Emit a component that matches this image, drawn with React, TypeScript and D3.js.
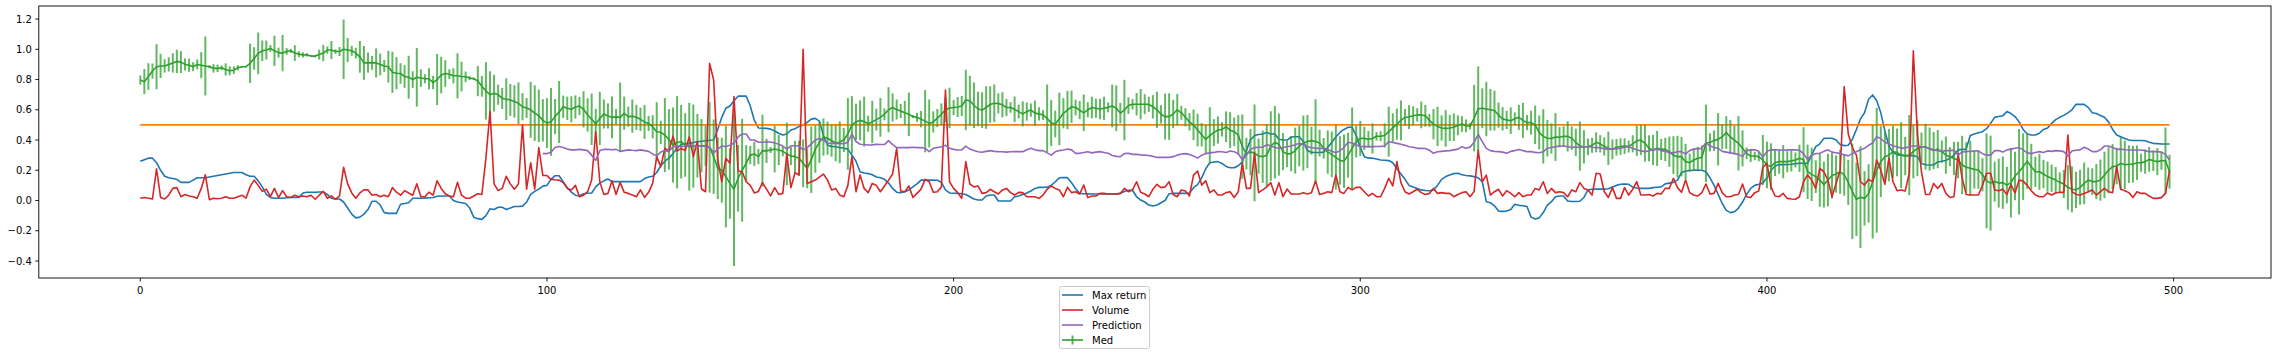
import React from "react";
import * as d3 from "d3";

// ---------------- data ----------------
const maxReturn: number[] = [
  0.26, 0.27, 0.28, 0.28, 0.25, 0.2, 0.16, 0.15, 0.145, 0.14,
  0.12, 0.12, 0.12, 0.135, 0.15, 0.15, 0.15, 0.155, 0.16, 0.165,
  0.17, 0.175, 0.18, 0.185, 0.185, 0.185, 0.17, 0.16, 0.16, 0.13,
  0.09, 0.04, 0.02, 0.015, 0.015, 0.015, 0.018, 0.02, 0.02, 0.02,
  0.05, 0.055, 0.055, 0.055, 0.056, 0.056, 0.04, 0.015, 0.01, 0.01,
  -0.01, -0.05, -0.09, -0.115, -0.11, -0.09, -0.06, -0.005, -0.005, -0.03,
  -0.08, -0.085, -0.085, -0.085, -0.025, -0.02, -0.015, 0.015, 0.015, 0.015,
  0.016, 0.018, 0.02, 0.028, 0.03, 0.03, 0.03, 0.0, -0.01, -0.015,
  -0.02, -0.05, -0.11, -0.12, -0.125, -0.1, -0.055, -0.06, -0.045, -0.045,
  -0.06, -0.05, -0.04, -0.04, -0.037, -0.01, 0.04, 0.06, 0.075, 0.095,
  0.1, 0.14, 0.164, 0.164, 0.124, 0.085, 0.055, 0.035, 0.03, 0.045,
  0.048, 0.05, 0.09, 0.115, 0.13, 0.142, 0.125, 0.125, 0.125, 0.125,
  0.125, 0.125, 0.125, 0.125, 0.145, 0.155, 0.16, 0.185, 0.23, 0.26,
  0.28, 0.31, 0.345, 0.37, 0.375, 0.378, 0.383, 0.389, 0.392, 0.395,
  0.398, 0.4, 0.47, 0.55, 0.61, 0.625, 0.66, 0.69, 0.69, 0.69,
  0.625, 0.53, 0.48, 0.478, 0.477, 0.472, 0.46, 0.445, 0.433, 0.44,
  0.466, 0.475, 0.49, 0.5, 0.517, 0.538, 0.543, 0.525, 0.43, 0.365,
  0.358, 0.356, 0.35, 0.345, 0.34, 0.3, 0.26, 0.19, 0.182, 0.178,
  0.17, 0.155, 0.15, 0.14, 0.115, 0.08, 0.055, 0.052, 0.058, 0.07,
  0.09, 0.11, 0.135, 0.135, 0.135, 0.135, 0.134, 0.12, 0.07, 0.05,
  0.048, 0.047, 0.045, 0.04, 0.025, 0.01, 0.003, 0.003, 0.03, 0.036,
  0.036, -0.003, -0.003, -0.003, -0.003, 0.025, 0.03, 0.04, 0.05, 0.063,
  0.08, 0.087, 0.087, 0.088, 0.1, 0.124, 0.15, 0.151, 0.151, 0.118,
  0.078, 0.047, 0.045, 0.044, 0.043, 0.043, 0.043, 0.043, 0.043, 0.043,
  0.045, 0.047, 0.06, 0.068, 0.068, 0.025, 0.003, -0.01, -0.03, -0.036,
  -0.03, -0.015, 0.0, 0.045, 0.047, 0.047, 0.047, 0.047, 0.05, 0.085,
  0.105, 0.15, 0.21, 0.25, 0.255, 0.257, 0.245, 0.225, 0.217, 0.217,
  0.23, 0.255, 0.33, 0.4, 0.43, 0.437, 0.44, 0.449, 0.44, 0.44,
  0.405, 0.4, 0.4, 0.42, 0.422, 0.422, 0.39, 0.33, 0.318, 0.317,
  0.317, 0.32, 0.35, 0.385, 0.42, 0.45, 0.47, 0.484, 0.484, 0.43,
  0.35, 0.29, 0.28, 0.28, 0.275, 0.268, 0.266, 0.264, 0.25, 0.21,
  0.175, 0.14, 0.1, 0.09, 0.08, 0.07, 0.066, 0.064, 0.07, 0.1,
  0.14, 0.158, 0.168, 0.178, 0.18, 0.17, 0.165, 0.163, 0.158, 0.15,
  0.124, -0.008, -0.015, -0.035, -0.07, -0.072, -0.07, -0.06, -0.025, -0.032,
  -0.035, -0.04, -0.11, -0.122, -0.115, -0.08, -0.03, -0.008, 0.025, 0.03,
  0.03, -0.003, -0.007, -0.007, -0.005, 0.02, 0.07, 0.074, 0.075, 0.075,
  0.075, 0.078, 0.09, 0.1, 0.107, 0.108, 0.107, 0.088, 0.083, 0.08,
  0.08, 0.08, 0.085, 0.088, 0.09, 0.11, 0.115, 0.12, 0.135, 0.185,
  0.195, 0.198, 0.2, 0.202, 0.2, 0.19, 0.15, 0.1, 0.04, -0.02,
  -0.065, -0.08, -0.075, -0.05, -0.01, 0.04, 0.08, 0.1, 0.107, 0.115,
  0.15, 0.2, 0.228, 0.238, 0.237, 0.238, 0.24, 0.243, 0.246, 0.246,
  0.246, 0.3, 0.356, 0.375, 0.411, 0.412, 0.412, 0.4, 0.37, 0.363,
  0.365, 0.404, 0.47, 0.54, 0.58, 0.67, 0.698, 0.66, 0.58, 0.46,
  0.36, 0.318, 0.302, 0.3, 0.297, 0.297, 0.297, 0.29, 0.245, 0.236,
  0.235, 0.235, 0.255, 0.26, 0.265, 0.28, 0.3, 0.335, 0.338, 0.34,
  0.43, 0.44, 0.448, 0.455, 0.475, 0.51, 0.55, 0.555, 0.56, 0.588,
  0.575, 0.555, 0.52, 0.47, 0.44, 0.433, 0.433, 0.445, 0.47, 0.48,
  0.51, 0.535, 0.55, 0.563, 0.58, 0.6, 0.636, 0.636, 0.636, 0.616,
  0.58, 0.575, 0.562, 0.55, 0.52, 0.47, 0.433, 0.422, 0.41, 0.4,
  0.397, 0.397, 0.397, 0.395, 0.385, 0.378, 0.376, 0.374, 0.374, 0.374,
];

const volume: number[] = [
  0.015, 0.02, 0.015, 0.01, 0.21, 0.02, 0.01, 0.035, 0.08, 0.085,
  0.025, 0.04, 0.03, 0.025, 0.015, 0.08, 0.17, 0.005, 0.015, 0.012,
  0.015, 0.025, 0.015, 0.015, 0.025, 0.035, 0.015, 0.09, 0.135, 0.1,
  0.06, 0.075, 0.025, 0.08, 0.02, 0.065, 0.025, 0.02, 0.035, 0.025,
  0.03, 0.025, 0.035, 0.008, 0.035, 0.06, 0.015, 0.03, 0.008, 0.03,
  0.22, 0.11, 0.05, 0.015, 0.05, 0.07, 0.07, 0.035, 0.04, 0.025,
  0.035, 0.025, 0.085, 0.055, 0.035, 0.065, 0.05, 0.035, 0.11, 0.025,
  0.025, 0.055, 0.035, 0.13, 0.08, 0.045, 0.03, 0.025, 0.12, 0.035,
  0.015, 0.015, 0.03, 0.045, 0.04, 0.28, 0.59, 0.11, 0.065, 0.08,
  0.16, 0.11, 0.075, 0.11, 0.5, 0.075, 0.25, 0.075, 0.35, 0.165,
  0.165, 0.14, 0.137, 0.135, 0.118, 0.08, 0.07, 0.1, 0.025, 0.035,
  0.058, 0.135, 0.455, 0.124, 0.04, 0.047, 0.13, 0.04, 0.12, 0.054,
  0.047, 0.036, 0.025, 0.07, 0.02, 0.054, 0.113, 0.29, 0.224, 0.345,
  0.327, 0.426, 0.327, 0.345, 0.33, 0.42, 0.29, 0.39, 0.076, 0.058,
  0.907, 0.797, 0.272, 0.124, 0.28, 0.246, 0.687, 0.195, 0.19, 0.124,
  0.1, 0.05, 0.06, 0.118, 0.075, 0.03, 0.085, 0.04, 0.047, 0.308,
  0.085, 0.184, 0.169, 1.0, 0.113, 0.124, 0.135, 0.155, 0.175, 0.135,
  0.07, 0.08, 0.036, 0.025, 0.1, 0.29, 0.058, 0.169, 0.08, 0.052,
  0.113, 0.1, 0.058, 0.096, 0.135, 0.175, 0.345, 0.063, 0.058, 0.096,
  0.02, 0.047, 0.075, 0.14, 0.124, 0.054, 0.058, 0.09, 0.73, 0.124,
  0.08, 0.052, 0.014, 0.257, 0.109, 0.09, 0.096, 0.047, 0.052, 0.074,
  0.058, 0.043, 0.07, 0.08, 0.052, 0.036, 0.054, 0.052, 0.025, 0.025,
  0.025, 0.014, 0.036, 0.074, 0.096, 0.08, 0.07, 0.025, 0.087, 0.052,
  0.058, 0.043, 0.102, 0.019, 0.03, 0.03, 0.047, 0.047, 0.043, 0.043,
  0.041, 0.047, 0.08, 0.058, 0.07, 0.124, 0.054, 0.043, 0.025, 0.074,
  0.107, 0.085, 0.09, 0.124, 0.04, 0.025, 0.07, 0.063, 0.03, 0.168,
  0.195, 0.102, 0.13, 0.052, 0.07, 0.036, 0.036, 0.052, 0.058, 0.02,
  0.058, 0.246, 0.08, 0.08, 0.312, 0.052, 0.07, 0.09, 0.118, 0.036,
  0.118, 0.025, 0.076, 0.043, 0.043, 0.043, 0.052, 0.043, 0.052, 0.129,
  0.04, 0.047, 0.058, 0.052, 0.168, 0.058, 0.047, 0.087, 0.07, 0.087,
  0.087, 0.058, 0.03, 0.047, 0.025, 0.025, 0.08, 0.147, 0.096, 0.257,
  0.118, 0.058, 0.043, 0.058, 0.074, 0.052, 0.04, 0.047, 0.08, 0.047,
  0.052, 0.047, 0.047, 0.025, 0.04, 0.052, 0.058, 0.025, 0.06, 0.334,
  0.124, 0.168, 0.036, 0.058, 0.074, 0.03, 0.065, 0.047, 0.025, 0.052,
  0.025, 0.036, 0.036, 0.08, 0.07, 0.124, 0.047, 0.08, 0.052, 0.058,
  0.052, 0.025, 0.07, 0.058, 0.118, 0.08, 0.07, 0.036, 0.18, 0.175,
  0.058, 0.02, 0.085, 0.014, 0.014, 0.085, 0.036, 0.074, 0.124, 0.036,
  0.036, 0.04, 0.03, 0.047, 0.043, 0.08, 0.08, 0.147, 0.085, 0.054,
  0.135, 0.052, 0.036, 0.03, 0.052, 0.109, 0.043, 0.047, 0.113, 0.052,
  0.025, 0.025, 0.036, 0.04, 0.109, 0.025, 0.02, 0.052, 0.063, 0.22,
  0.246, 0.09, 0.03, 0.025, 0.047, 0.014, 0.01, 0.008, 0.025, 0.124,
  0.169, 0.135, 0.08, 0.213, 0.19, 0.135, 0.025, 0.113, 0.2, 0.753,
  0.44, 0.35, 0.3, 0.124, 0.102, 0.14, 0.124, 0.268, 0.2, 0.107,
  0.28, 0.124, 0.065, 0.07, 0.063, 0.18, 0.99, 0.44, 0.19, 0.04,
  0.04, 0.113, 0.08, 0.113, 0.047, 0.02, 0.025, 0.31, 0.15, 0.04,
  0.036, 0.036, 0.036, 0.1, 0.18, 0.18, 0.07, 0.065, 0.075, 0.04,
  0.105, 0.05, 0.135, 0.128, 0.1, 0.065, 0.036, 0.025, 0.025, 0.05,
  0.036, 0.05, 0.054, 0.054, 0.433, 0.058, 0.04, 0.036, 0.047, 0.058,
  0.07, 0.036, 0.058, 0.08, 0.058, 0.052, 0.224, 0.074, 0.065, 0.052,
  0.02, 0.058, 0.047, 0.047, 0.03, 0.014, 0.014, 0.019, 0.047, 0.197,
];

const med: number[] = [
  0.797, 0.786, 0.82, 0.856, 0.885, 0.89, 0.89, 0.9, 0.91, 0.92,
  0.915, 0.9, 0.895, 0.885, 0.9, 0.895, 0.89, 0.885, 0.874, 0.874,
  0.878, 0.867, 0.858, 0.862, 0.878, 0.885, 0.885, 0.907, 0.94, 0.973,
  0.99, 0.995, 1.006, 0.99, 0.978, 0.975, 0.986, 0.99, 0.975, 0.968,
  0.963, 0.963, 0.955, 0.955, 0.965, 0.975, 0.995, 0.995, 0.985, 0.985,
  1.0, 0.995, 0.99, 0.975, 0.95, 0.91, 0.912, 0.91, 0.91, 0.9,
  0.89, 0.885, 0.848, 0.842, 0.84, 0.82, 0.815, 0.8, 0.815, 0.81,
  0.805, 0.805, 0.78, 0.8, 0.83, 0.84, 0.835, 0.825, 0.825, 0.82,
  0.818, 0.81, 0.805, 0.79, 0.755, 0.725, 0.7, 0.71, 0.7, 0.675,
  0.67, 0.665, 0.655, 0.643, 0.62, 0.612, 0.6, 0.578, 0.56, 0.53,
  0.512, 0.52, 0.555, 0.585, 0.62, 0.61, 0.603, 0.618, 0.625, 0.603,
  0.566, 0.537, 0.506, 0.543, 0.572, 0.559, 0.55, 0.553, 0.55, 0.577,
  0.554, 0.558, 0.55, 0.537, 0.52, 0.51, 0.488, 0.455, 0.451, 0.433,
  0.404, 0.367, 0.385, 0.389, 0.367, 0.356, 0.36, 0.362, 0.362, 0.362,
  0.352, 0.29, 0.213, 0.2, 0.158, 0.113, 0.074, 0.147, 0.2, 0.246,
  0.3, 0.308, 0.29, 0.33, 0.328, 0.334, 0.34, 0.334, 0.325, 0.308,
  0.294, 0.29, 0.279, 0.246, 0.213, 0.27, 0.34, 0.385, 0.42, 0.412,
  0.395, 0.38, 0.385, 0.4, 0.44, 0.5, 0.52, 0.53, 0.522, 0.508,
  0.52, 0.535, 0.55, 0.57, 0.6, 0.615, 0.602, 0.592, 0.58, 0.57,
  0.555, 0.55, 0.538, 0.525, 0.51, 0.52, 0.545, 0.57, 0.6, 0.612,
  0.615, 0.618, 0.625, 0.665, 0.66, 0.63, 0.605, 0.598, 0.615, 0.635,
  0.643, 0.642, 0.633, 0.615, 0.615, 0.603, 0.588, 0.573, 0.588, 0.598,
  0.578, 0.573, 0.565, 0.543, 0.512, 0.506, 0.54, 0.577, 0.598, 0.62,
  0.615, 0.598, 0.58, 0.6, 0.615, 0.61, 0.605, 0.61, 0.616, 0.625,
  0.61, 0.578, 0.598, 0.628, 0.636, 0.637, 0.637, 0.637, 0.636, 0.62,
  0.6, 0.57, 0.555, 0.555, 0.572, 0.6, 0.58, 0.55, 0.52, 0.5,
  0.466, 0.435, 0.404, 0.43, 0.449, 0.466, 0.47, 0.488, 0.465, 0.455,
  0.433, 0.356, 0.31, 0.32, 0.315, 0.294, 0.29, 0.3, 0.36, 0.385,
  0.37, 0.323, 0.308, 0.31, 0.33, 0.36, 0.38, 0.39, 0.396, 0.39,
  0.38, 0.345, 0.32, 0.305, 0.285, 0.265, 0.26, 0.3, 0.345, 0.39,
  0.41, 0.411, 0.405, 0.41, 0.425, 0.425, 0.43, 0.455, 0.48, 0.505,
  0.53, 0.55, 0.552, 0.56, 0.566, 0.566, 0.56, 0.53, 0.505, 0.49,
  0.48, 0.477, 0.48, 0.485, 0.497, 0.506, 0.494, 0.492, 0.545, 0.607,
  0.61, 0.605, 0.6, 0.595, 0.565, 0.54, 0.533, 0.528, 0.54, 0.55,
  0.53, 0.515, 0.515, 0.5, 0.45, 0.424, 0.412, 0.41, 0.42, 0.418,
  0.425, 0.424, 0.412, 0.385, 0.36, 0.355, 0.355, 0.365, 0.385, 0.375,
  0.357, 0.345, 0.338, 0.352, 0.357, 0.36, 0.357, 0.375, 0.395, 0.4,
  0.378, 0.345, 0.334, 0.345, 0.338, 0.338, 0.323, 0.3, 0.29, 0.29,
  0.257, 0.25, 0.268, 0.28, 0.285, 0.378, 0.385, 0.396, 0.405, 0.422,
  0.449, 0.42, 0.4, 0.378, 0.345, 0.312, 0.294, 0.294, 0.29, 0.268,
  0.235, 0.224, 0.25, 0.257, 0.257, 0.257, 0.262, 0.268, 0.279, 0.27,
  0.19, 0.173, 0.158, 0.135, 0.105, 0.135, 0.165, 0.175, 0.19, 0.17,
  0.12, 0.06, 0.008, 0.022, 0.014, 0.047, 0.124, 0.2, 0.257, 0.29,
  0.3, 0.323, 0.318, 0.3, 0.294, 0.3, 0.323, 0.345, 0.352, 0.356,
  0.34, 0.33, 0.34, 0.323, 0.3, 0.29, 0.278, 0.268, 0.235, 0.22,
  0.213, 0.206, 0.202, 0.17, 0.13, 0.115, 0.125, 0.115, 0.118, 0.102,
  0.118, 0.162, 0.19, 0.224, 0.26, 0.224, 0.19, 0.19, 0.175, 0.158,
  0.147, 0.135, 0.12, 0.109, 0.087, 0.074, 0.07, 0.087, 0.113, 0.135,
  0.125, 0.125, 0.135, 0.169, 0.2, 0.224, 0.228, 0.246, 0.236, 0.24,
  0.24, 0.25, 0.25, 0.257, 0.272, 0.263, 0.257, 0.263, 0.263, 0.19,
];

const medErr: number[] = [
  0.03, 0.083, 0.088, 0.05, 0.149, 0.08, 0.044, 0.047, 0.064, 0.077,
  0.072, 0.04, 0.044, 0.03, 0.033, 0.086, 0.195, 0.01, 0.028, 0.025,
  0.015, 0.04, 0.03, 0.025, 0.017, 0.005, 0.005, 0.13, 0.074, 0.138,
  0.068, 0.063, 0.022, 0.1, 0.033, 0.12, 0.022, 0.013, 0.052, 0.019,
  0.017, 0.011, 0.005, 0.008, 0.033, 0.054, 0.024, 0.06, 0.015, 0.03,
  0.197, 0.08, 0.033, 0.035, 0.105, 0.112, 0.066, 0.046, 0.096, 0.072,
  0.039, 0.105, 0.136, 0.106, 0.068, 0.075, 0.142, 0.055, 0.194, 0.058,
  0.03, 0.07, 0.044, 0.169, 0.121, 0.088, 0.033, 0.05, 0.149, 0.098,
  0.035, 0.013, 0.009, 0.1, 0.068, 0.19, 0.155, 0.121, 0.067, 0.07,
  0.138, 0.105, 0.107, 0.138, 0.09, 0.066, 0.185, 0.184, 0.174, 0.14,
  0.165, 0.224, 0.116, 0.205, 0.074, 0.077, 0.086, 0.077, 0.06, 0.12,
  0.11, 0.17, 0.1, 0.176, 0.096, 0.083, 0.138, 0.052, 0.23, 0.11,
  0.066, 0.11, 0.083, 0.077, 0.112, 0.05, 0.077, 0.195, 0.077, 0.245,
  0.2, 0.248, 0.305, 0.243, 0.21, 0.29, 0.275, 0.21, 0.176, 0.132,
  0.3, 0.246, 0.204, 0.215, 0.336, 0.234, 0.507, 0.22, 0.34, 0.12,
  0.06, 0.08, 0.05, 0.237, 0.08, 0.02, 0.154, 0.1, 0.033, 0.207,
  0.06, 0.105, 0.116, 0.158, 0.132, 0.22, 0.157, 0.136, 0.123, 0.11,
  0.105, 0.12, 0.138, 0.08, 0.237, 0.19, 0.12, 0.132, 0.165, 0.053,
  0.14, 0.072, 0.128, 0.039, 0.149, 0.093, 0.066, 0.047, 0.079, 0.143,
  0.01, 0.03, 0.054, 0.206, 0.158, 0.07, 0.06, 0.072, 0.083, 0.134,
  0.05, 0.066, 0.066, 0.2, 0.165, 0.151, 0.114, 0.118, 0.141, 0.121,
  0.125, 0.066, 0.083, 0.057, 0.035, 0.085, 0.046, 0.083, 0.06, 0.044,
  0.083, 0.044, 0.033, 0.224, 0.152, 0.088, 0.174, 0.1, 0.127, 0.107,
  0.052, 0.06, 0.121, 0.05, 0.072, 0.063, 0.068, 0.077, 0.033, 0.141,
  0.151, 0.068, 0.2, 0.055, 0.035, 0.074, 0.1, 0.066, 0.05, 0.077,
  0.12, 0.06, 0.152, 0.154, 0.094, 0.105, 0.046, 0.06, 0.058, 0.101,
  0.108, 0.077, 0.096, 0.187, 0.089, 0.09, 0.047, 0.101, 0.119, 0.094,
  0.132, 0.213, 0.105, 0.154, 0.32, 0.116, 0.173, 0.204, 0.23, 0.24,
  0.205, 0.123, 0.088, 0.116, 0.152, 0.134, 0.182, 0.176, 0.093, 0.279,
  0.088, 0.068, 0.143, 0.151, 0.213, 0.16, 0.177, 0.149, 0.27, 0.105,
  0.116, 0.077, 0.055, 0.1, 0.028, 0.033, 0.08, 0.165, 0.097, 0.103,
  0.132, 0.055, 0.079, 0.063, 0.044, 0.088, 0.072, 0.042, 0.1, 0.13,
  0.083, 0.121, 0.086, 0.091, 0.066, 0.052, 0.042, 0.022, 0.22, 0.28,
  0.132, 0.18, 0.138, 0.132, 0.083, 0.077, 0.06, 0.088, 0.042, 0.083,
  0.116, 0.05, 0.079, 0.127, 0.112, 0.18, 0.121, 0.1, 0.158, 0.068,
  0.066, 0.1, 0.078, 0.09, 0.163, 0.11, 0.055, 0.05, 0.066, 0.057,
  0.06, 0.11, 0.066, 0.055, 0.055, 0.052, 0.04, 0.057, 0.1, 0.1,
  0.121, 0.086, 0.1, 0.116, 0.07, 0.077, 0.1, 0.125, 0.138, 0.13,
  0.118, 0.06, 0.074, 0.075, 0.08, 0.256, 0.06, 0.068, 0.173, 0.083,
  0.108, 0.112, 0.094, 0.18, 0.119, 0.039, 0.04, 0.028, 0.031, 0.165,
  0.154, 0.154, 0.088, 0.08, 0.11, 0.07, 0.07, 0.05, 0.09, 0.215,
  0.18, 0.176, 0.108, 0.176, 0.152, 0.174, 0.152, 0.123, 0.146, 0.138,
  0.149, 0.316, 0.243, 0.336, 0.18, 0.193, 0.375, 0.413, 0.235, 0.165,
  0.173, 0.173, 0.158, 0.218, 0.127, 0.265, 0.176, 0.184, 0.097, 0.152,
  0.143, 0.123, 0.127, 0.074, 0.123, 0.063, 0.11, 0.121, 0.193, 0.165,
  0.182, 0.127, 0.125, 0.11, 0.314, 0.314, 0.132, 0.162, 0.173, 0.121,
  0.23, 0.16, 0.283, 0.22, 0.182, 0.151, 0.1, 0.119, 0.094, 0.1,
  0.09, 0.086, 0.066, 0.092, 0.147, 0.152, 0.12, 0.116, 0.138, 0.083,
  0.088, 0.116, 0.136, 0.154, 0.152, 0.149, 0.121, 0.176, 0.16, 0.125,
  0.121, 0.114, 0.06, 0.08, 0.082, 0.068, 0.09, 0.06, 0.22, 0.112,
];

const predictionStart = 99;
const prediction: number[] = [
  0.31, 0.31, 0.32, 0.35, 0.357, 0.35, 0.34, 0.335, 0.335, 0.338, 0.335,
  0.33, 0.3, 0.265, 0.33, 0.338, 0.338, 0.336, 0.338, 0.325, 0.33,
  0.335, 0.332, 0.33, 0.335, 0.33, 0.325, 0.308, 0.295, 0.32, 0.33,
  0.325, 0.355, 0.36, 0.357, 0.36, 0.365, 0.362, 0.357, 0.36, 0.357,
  0.355, 0.315, 0.34, 0.36, 0.357, 0.365, 0.38, 0.42, 0.44, 0.44,
  0.4, 0.4, 0.385, 0.385, 0.389, 0.387, 0.38, 0.372, 0.36, 0.34,
  0.362, 0.362, 0.36, 0.335, 0.35, 0.375, 0.4, 0.41, 0.4, 0.38,
  0.378, 0.378, 0.375, 0.375, 0.385, 0.44, 0.39, 0.372, 0.37, 0.367,
  0.368, 0.372, 0.37, 0.37, 0.396, 0.37, 0.35, 0.35, 0.35, 0.35,
  0.352, 0.35, 0.35, 0.345, 0.323, 0.345, 0.35, 0.355, 0.365, 0.345,
  0.338, 0.334, 0.335, 0.36, 0.34, 0.33, 0.322, 0.319, 0.325, 0.33,
  0.325, 0.323, 0.322, 0.32, 0.322, 0.323, 0.323, 0.323, 0.335, 0.345,
  0.335, 0.33, 0.33, 0.315, 0.3, 0.322, 0.33, 0.334, 0.34, 0.335,
  0.312, 0.312, 0.318, 0.322, 0.315, 0.32, 0.323, 0.318, 0.313, 0.298,
  0.292, 0.29, 0.31, 0.312, 0.305, 0.305, 0.302, 0.3, 0.298, 0.292,
  0.285, 0.285, 0.285, 0.285, 0.29, 0.3, 0.308, 0.31, 0.305, 0.295,
  0.28, 0.3, 0.31, 0.315, 0.318, 0.323, 0.322, 0.318, 0.327, 0.322,
  0.31, 0.268, 0.3, 0.338, 0.35, 0.352, 0.352, 0.37, 0.36, 0.35,
  0.345, 0.35, 0.356, 0.36, 0.368, 0.378, 0.37, 0.356, 0.35, 0.345,
  0.345, 0.345, 0.335, 0.325, 0.316, 0.33, 0.35, 0.385, 0.38, 0.367,
  0.358, 0.356, 0.356, 0.356, 0.357, 0.358, 0.36, 0.39, 0.384, 0.378,
  0.372, 0.365, 0.356, 0.352, 0.345, 0.345, 0.344, 0.333, 0.312, 0.322,
  0.325, 0.328, 0.33, 0.335, 0.34, 0.356, 0.345, 0.353, 0.385, 0.437,
  0.39, 0.345, 0.33, 0.325, 0.323, 0.32, 0.312, 0.325, 0.33, 0.338,
  0.33, 0.323, 0.323, 0.318, 0.316, 0.323, 0.345, 0.35, 0.356, 0.36,
  0.36, 0.356, 0.352, 0.353, 0.35, 0.355, 0.355, 0.352, 0.35, 0.35,
  0.34, 0.34, 0.34, 0.342, 0.345, 0.352, 0.355, 0.345, 0.335, 0.328,
  0.323, 0.33, 0.335, 0.34, 0.33, 0.325, 0.315, 0.315, 0.323, 0.323,
  0.308, 0.33, 0.34, 0.343, 0.345, 0.382, 0.36, 0.35, 0.345, 0.325,
  0.32, 0.315, 0.31, 0.305, 0.29, 0.33, 0.335, 0.335, 0.325, 0.285,
  0.325, 0.335, 0.335, 0.334, 0.332, 0.335, 0.335, 0.335, 0.332, 0.31,
  0.272, 0.3, 0.31, 0.312, 0.325, 0.335, 0.32, 0.316, 0.31, 0.302,
  0.295, 0.31, 0.322, 0.336, 0.345, 0.365, 0.38, 0.422, 0.41, 0.385,
  0.375, 0.36, 0.355, 0.345, 0.348, 0.355, 0.36, 0.36, 0.356, 0.35,
  0.345, 0.335, 0.33, 0.325, 0.33, 0.33, 0.333, 0.3, 0.32, 0.325,
  0.325, 0.327, 0.328, 0.31, 0.3, 0.3, 0.33, 0.33, 0.32, 0.335,
  0.34, 0.345, 0.35, 0.335, 0.315, 0.31, 0.318, 0.323, 0.318, 0.328,
  0.325, 0.33, 0.328, 0.323, 0.294, 0.328, 0.332, 0.335, 0.352, 0.34,
  0.323, 0.323, 0.335, 0.36, 0.36, 0.35, 0.338, 0.34, 0.336, 0.334,
  0.334, 0.334, 0.334, 0.33, 0.323, 0.323, 0.323, 0.32, 0.305, 0.268,
];

const threshold = 0.5;
const xTicks = [0, 100, 200, 300, 400, 500];
const yTicks = [-0.4, -0.2, 0.0, 0.2, 0.4, 0.6, 0.8, 1.0, 1.2];
const legendItems = [
  { label: "Max return", color: "#1f77b4", kind: "line" },
  { label: "Volume", color: "#d62728", kind: "line" },
  { label: "Prediction", color: "#9467bd", kind: "line" },
  { label: "Med", color: "#2ca02c", kind: "errorbar" },
];

// ---------------- layout ----------------
const W = 2277;
const H = 356;
const AX = { left: 38.8, right: 2271, top: 6, bottom: 278 };
const FONT = "'DejaVu Sans', sans-serif";

export default function App() {
  const x = d3.scaleLinear().domain([-24.95, 523.95]).range([AX.left, AX.right]);
  const y = d3.scaleLinear().domain([-0.5126, 1.2864]).range([AX.bottom, AX.top]);

  const mkLine = (vals: number[], start = 0) =>
    d3
      .line<number>()
      .x((_, i) => x(i + start))
      .y((d) => y(d))(vals) || "";

  const fmt = d3.format(".1f");
  const n = med.length;

  return (
    <svg
      width={W}
      height={H}
      style={{ position: "absolute", left: 0, top: 0, background: "#fff" }}
      fontFamily={FONT}
    >
      <rect x={0} y={0} width={W} height={H} fill="#fff" />
      <defs>
        <clipPath id="plotclip">
          <rect x={AX.left} y={AX.top} width={AX.right - AX.left} height={AX.bottom - AX.top} />
        </clipPath>
      </defs>

      <g clipPath="url(#plotclip)">
        {/* Max return */}
        <path d={mkLine(maxReturn)} fill="none" stroke="#1f77b4" strokeWidth={1.6} strokeLinejoin="round" />
        {/* threshold */}
        <path
          d={mkLine(med.map(() => threshold))}
          fill="none"
          stroke="#ff7f0e"
          strokeWidth={1.6}
        />
        {/* Med error bars */}
        <g stroke="#2ca02c" strokeWidth={2} opacity={0.75}>
          {med.map((m, i) => (
            <line key={i} x1={x(i)} x2={x(i)} y1={y(m - medErr[i])} y2={y(m + medErr[i])} />
          ))}
        </g>
        <path d={mkLine(med)} fill="none" stroke="#2ca02c" strokeWidth={1.6} strokeLinejoin="round" />
        {/* Volume */}
        <path d={mkLine(volume)} fill="none" stroke="#d62728" strokeWidth={1.6} strokeLinejoin="round" />
        {/* Prediction */}
        <path
          d={mkLine(prediction, predictionStart)}
          fill="none"
          stroke="#9467bd"
          strokeWidth={1.6}
          strokeLinejoin="round"
        />
      </g>

      {/* axes frame */}
      <rect
        x={AX.left}
        y={AX.top}
        width={AX.right - AX.left}
        height={AX.bottom - AX.top}
        fill="none"
        stroke="#000"
        strokeWidth={0.9}
      />

      {/* x ticks */}
      {xTicks.map((t) => (
        <g key={"x" + t}>
          <line x1={x(t)} x2={x(t)} y1={AX.bottom} y2={AX.bottom + 3.5} stroke="#000" strokeWidth={0.9} />
          <text x={x(t)} y={AX.bottom + 16} fontSize={10} textAnchor="middle" fill="#000">
            {t}
          </text>
        </g>
      ))}

      {/* y ticks */}
      {yTicks.map((t) => (
        <g key={"y" + t}>
          <line x1={AX.left - 3.5} x2={AX.left} y1={y(t)} y2={y(t)} stroke="#000" strokeWidth={0.9} />
          <text x={AX.left - 7} y={y(t) + 3.6} fontSize={10} textAnchor="end" fill="#000">
            {fmt(t)}
          </text>
        </g>
      ))}

      {/* legend */}
      <g>
        <rect x={1059.5} y={286.5} width={90} height={62} rx={2} fill="#fff" fillOpacity={0.8} stroke="#ccc" />
        {legendItems.map((it, i) => {
          const cy = 295 + i * 15;
          return (
            <g key={it.label}>
              <line x1={1062} x2={1083} y1={cy} y2={cy} stroke={it.color} strokeWidth={1.6} />
              {it.kind === "errorbar" && (
                <line x1={1072.5} x2={1072.5} y1={cy - 4.5} y2={cy + 4.5} stroke={it.color} strokeWidth={2} opacity={0.8} />
              )}
              <text x={1092} y={cy + 3.6} fontSize={10} fill="#000">
                {it.label}
              </text>
            </g>
          );
        })}
      </g>
    </svg>
  );
}
